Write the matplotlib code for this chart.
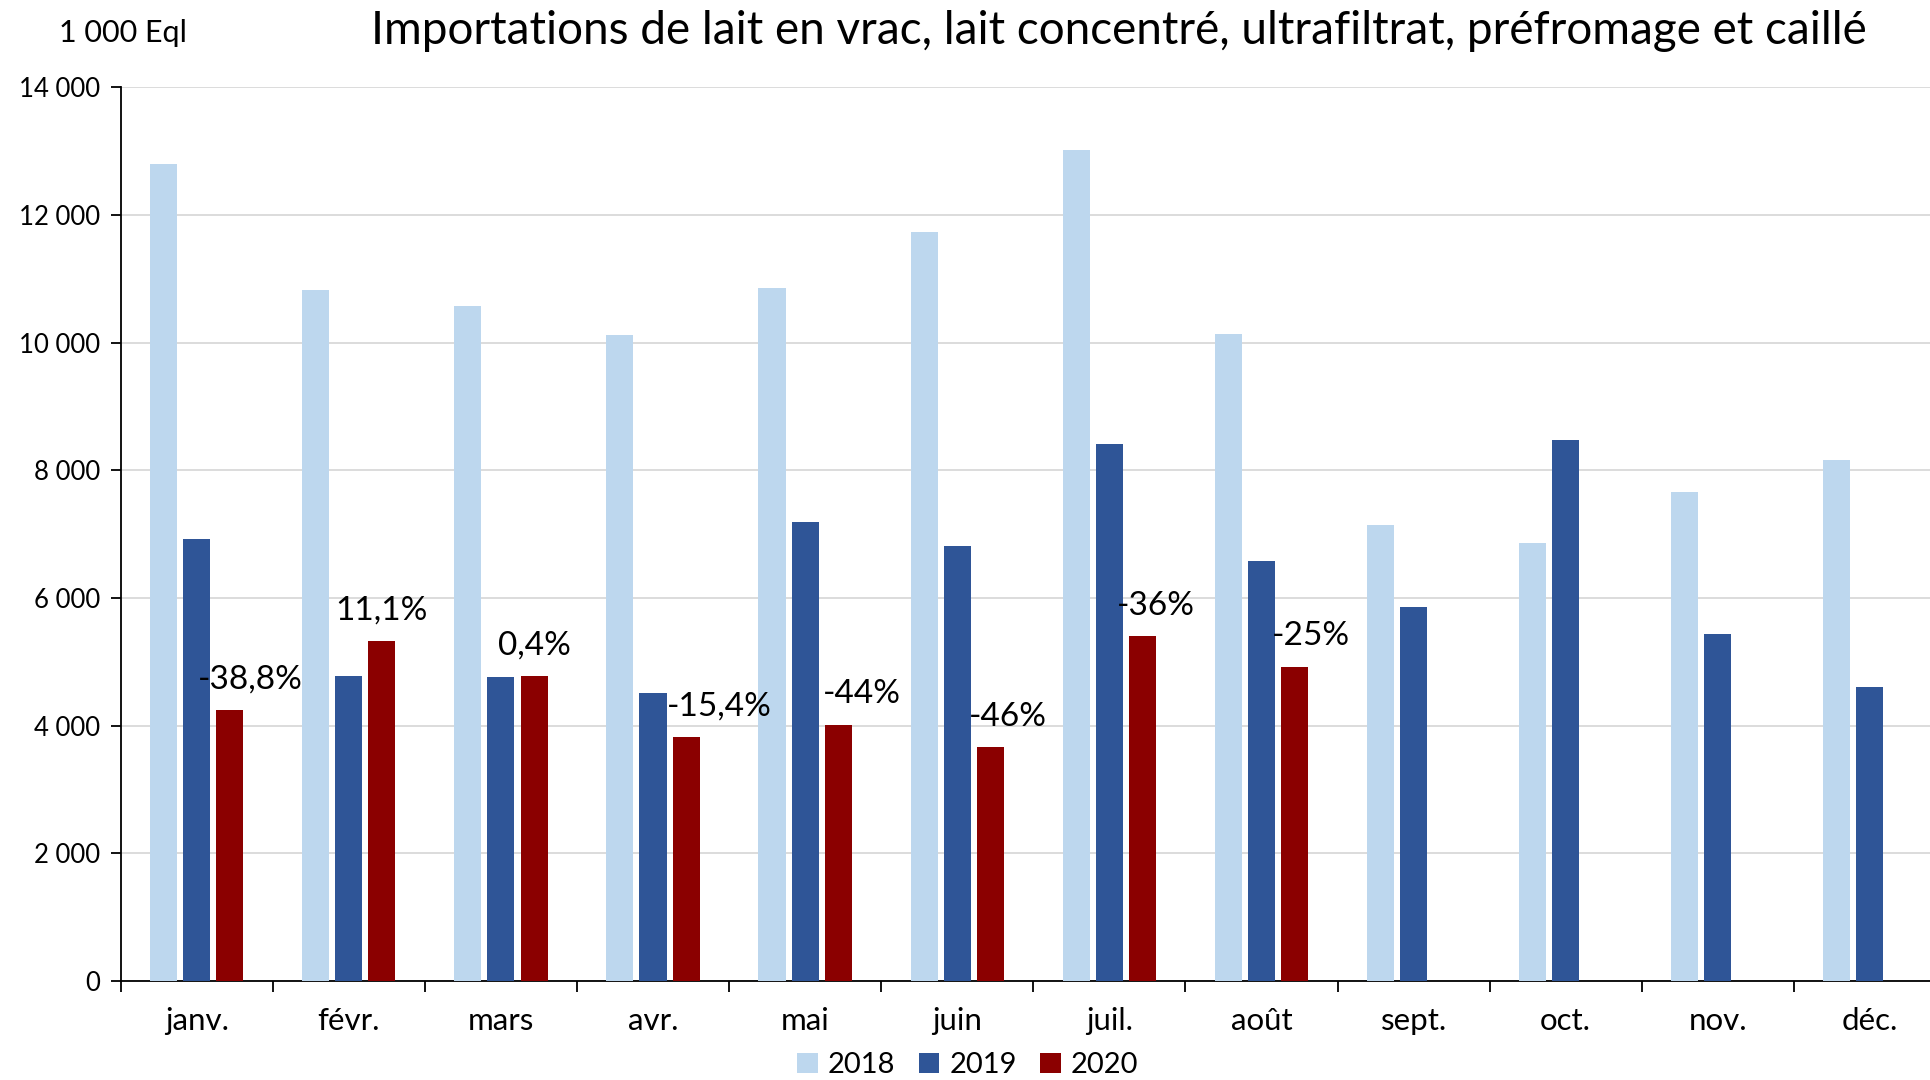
import matplotlib
matplotlib.use("Agg")
import matplotlib.pyplot as plt
import numpy as np
from matplotlib.patches import Patch

plt.rcParams['font.family'] = ['Lato', 'DejaVu Sans']

months = ["janv.", "févr.", "mars", "avr.", "mai", "juin", "juil.", "août",
          "sept.", "oct.", "nov.", "déc."]
v2018 = [12800, 10820, 10570, 10120, 10860, 11740, 13020, 10140, 7150, 6860, 7660, 8160]
v2019 = [6920, 4780, 4760, 4510, 7190, 6810, 8410, 6580, 5860, 8480, 5440, 4610]
v2020 = [4240, 5320, 4780, 3820, 4010, 3660, 5400, 4920]
labels2020 = ["-38,8%", "11,1%", "0,4%", "-15,4%", "-44%", "-46%", "-36%", "-25%"]
years = ["2018", "2019", "2020"]
yticks = [0, 2000, 4000, 6000, 8000, 10000, 12000, 14000]

# style / placement
colors = ["#BDD7EE", "#2F5597", "#8B0000"]
label_dx = [0.134, 0.0, 0.0, 0.218, 0.154, 0.113, 0.089, 0.105]

fig = plt.figure(figsize=(19.3, 10.8), dpi=100)
ax = fig.add_axes([0.0625, 0.0917, 0.9458, 0.8274])

x = np.arange(len(months))
w = 0.178
off = 0.218
ax.bar(x - off, v2018, width=w, color=colors[0], zorder=3)
ax.bar(x, v2019, width=w, color=colors[1], zorder=3)
x20 = np.arange(len(v2020))
ax.bar(x20 + off, v2020, width=w, color=colors[2], zorder=3)

for i, (val, lab) in enumerate(zip(v2020, labels2020)):
    ax.annotate(lab, xy=(x20[i] + off + label_dx[i], val), xytext=(0, 22),
                textcoords="offset points", ha="center", va="center",
                fontsize=24, color="black", zorder=4)

ax.set_xlim(-0.5, len(months) - 0.5)
ax.set_ylim(0, 14000)
ax.set_yticks(yticks)
ax.set_yticklabels([f"{v:,}".replace(",", " ") for v in yticks], fontsize=18.5)
ax.set_xticks(x)
ax.set_xticklabels(months, fontsize=22.5)
ax.tick_params(axis="x", length=0, pad=19)
ax.set_xticks(np.arange(-0.5, len(months) + 0.5, 1.0), minor=True)
ax.tick_params(axis="x", which="minor", length=8, width=1.3, direction="out")
ax.tick_params(axis="y", length=7, width=1.3, direction="out", pad=8)

ax.grid(axis="y", color="#D9D9D9", linewidth=1.3, zorder=0)
ax.set_axisbelow(True)
for s in ["top", "right"]:
    ax.spines[s].set_visible(False)
for s in ["left", "bottom"]:
    ax.spines[s].set_linewidth(1.3)
    ax.spines[s].set_color("black")

fig.text(0.0306, 0.969, "1 000 Eql", fontsize=22, ha="left", va="center")
fig.text(0.5795, 0.971,
         "Importations de lait en vrac, lait concentré, ultrafiltrat, préfromage et caillé",
         fontsize=33, ha="center", va="center")

handles = [Patch(facecolor=c, label=y) for c, y in zip(colors, years)]
fig.legend(handles=handles, loc="center", bbox_to_anchor=(0.5015, 0.0135),
           ncol=3, frameon=False, fontsize=21, handlelength=0.7, handleheight=0.7,
           handletextpad=0.35, columnspacing=0.8, borderpad=0.1)

fig.savefig("out.png", dpi=100, facecolor="white")
